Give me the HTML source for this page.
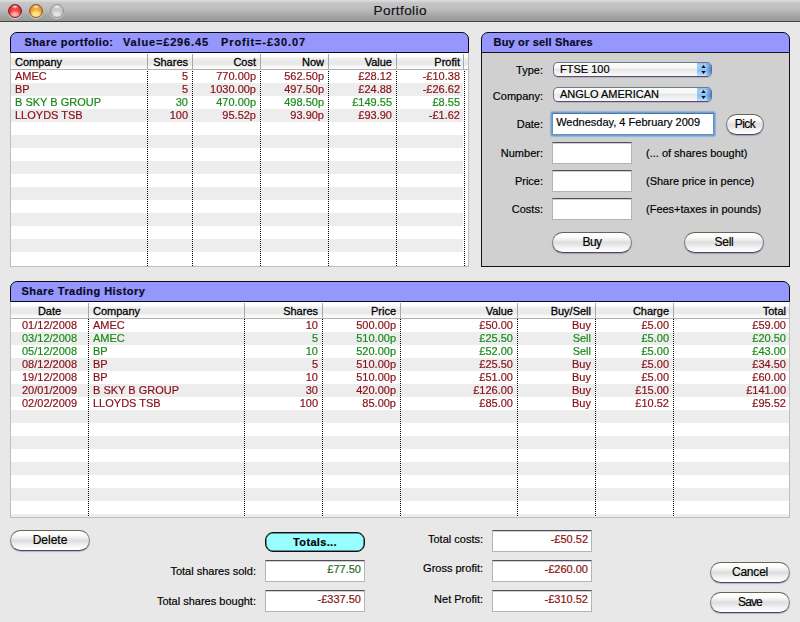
<!DOCTYPE html>
<html>
<head>
<meta charset="utf-8">
<title>Portfolio</title>
<style>
html,body{margin:0;padding:0;}
body{width:800px;height:622px;overflow:hidden;background:#e8e8e8;font-family:"Liberation Sans",sans-serif;font-size:11px;color:#000;position:relative;-webkit-text-stroke:0.18px;}
.abs{position:absolute;}
#titlebar{left:0;top:0;width:800px;height:21px;background:linear-gradient(#dcdedc 0px,#d4d4d4 1.5px,#c6c4c6 3px,#c1bfc1 8px,#b7b7b7 11px,#acacac 14px,#a1a3a1 17px,#979b97 21px);border-bottom:1px solid #3c4840;}
#title{left:0;top:3px;width:800px;text-align:center;font-size:13.5px;line-height:16px;color:#111;letter-spacing:0.42px;text-indent:0.4px;}
.light{width:14px;height:14px;border-radius:50%;top:4px;box-sizing:border-box;box-shadow:0 1px 0.5px rgba(255,255,255,0.55);}
.phead{background:#9696ff;border:1px solid #0a0a14;border-radius:7px 7px 0 0;box-sizing:border-box;height:21px;font-weight:bold;font-size:11px;line-height:19px;white-space:pre;color:#0a0a1e;}
.tbl{background:#fff;box-sizing:border-box;border:1px solid #bebebe;border-top:none;overflow:hidden;}
.thead{left:0;top:0;height:16px;background:linear-gradient(#ffffff 0%,#ffffff 22%,#f1f1f1 31%,#eaeaea 48%,#e8e8e8 70%,#f5f5f5 80%,#fdfdfd 100%);border-bottom:1px solid #b0b0b0;}
.th{top:0;height:16px;line-height:19px;box-sizing:border-box;white-space:nowrap;-webkit-text-stroke:0.28px;}
.hdiv{top:1px;width:1px;height:15px;background:#a8a8a8;}
.vdot{width:1px;background:repeating-linear-gradient(#000 0,#000 1px,#fff 1px,#fff 2px);}
.row{left:0;height:13px;}
.row.g{background:#ededed;}
.c{top:-1px;height:13px;line-height:14px;box-sizing:border-box;white-space:nowrap;}
.r{color:#880e16;will-change:transform;}
.gn{color:#168a16;will-change:transform;}
.fg{color:#236b23;}
.fr{color:#8c1010;}
.lbl{text-align:right;white-space:nowrap;line-height:14px;}
.hint{white-space:nowrap;line-height:14px;}
.tf{background:#fff;box-sizing:border-box;border:1px solid #b4b4b4;border-top:1px solid #4e4e5e;box-shadow:inset 0 1px 0 #cfcfcf;}
.tfv{text-align:right;line-height:14px;white-space:nowrap;}
.btn{box-sizing:border-box;border-radius:10.5px;border:1px solid #7c7c92;border-top-color:#66664e;border-bottom-color:#4c446c;background:linear-gradient(#ffffff 0%,#fbfbfb 22%,#ececec 38%,#dedede 50%,#e6e6e6 62%,#f6f6f6 80%,#ffffff 100%);box-shadow:0 1px 1px rgba(0,0,0,0.22);text-align:center;font-size:12px;line-height:18px;color:#000;}
.dd{box-sizing:border-box;border-radius:5px;border:1px solid #6c6c88;border-top-color:#6c7c86;border-bottom-color:#584a7a;background:linear-gradient(#fcfcfc 0%,#f6f6f6 40%,#e4e4e4 52%,#ececec 60%,#fafafa 100%);box-shadow:0 1px 0.5px rgba(0,0,0,0.12);line-height:13px;white-space:nowrap;overflow:hidden;}
.ddcap{right:0;top:0;width:14px;height:100%;background:linear-gradient(to right,rgba(60,120,210,0) 0%,rgba(60,120,210,0) 62%,rgba(50,110,205,0.75) 100%),linear-gradient(#8cb8ec 0%,#a4cef6 18%,#9ac8f4 45%,#84bcf0 55%,#a6d2f8 80%,#bfe0fb 100%);}
</style>
</head>
<body>
<div id="titlebar" class="abs"></div>
<div id="title" class="abs">Portfolio</div>
<div class="abs light" style="left:8px;background:radial-gradient(ellipse 3.5px 2px at 50% 14%,rgba(255,255,255,0.9) 0%,rgba(255,255,255,0) 100%),radial-gradient(ellipse 6px 4px at 50% 80%,#ffc4c4 0%,rgba(255,165,165,0.85) 50%,rgba(255,120,120,0) 100%),radial-gradient(circle at 50% 52%,#f85050 0%,#f04040 48%,#c02020 76%,#801616 100%);border:1px solid #7a2828;"></div>
<div class="abs light" style="left:29px;background:radial-gradient(ellipse 3.5px 2px at 50% 14%,rgba(255,255,255,0.9) 0%,rgba(255,255,255,0) 100%),radial-gradient(ellipse 6.5px 4.5px at 50% 78%,#fff0a0 0%,rgba(255,228,120,0.9) 50%,rgba(255,210,100,0) 100%),radial-gradient(circle at 50% 52%,#fab448 0%,#f4a438 48%,#cc7a1c 76%,#8c4e12 100%);border:1px solid #8a5c2a;"></div>
<div class="abs light" style="left:50px;background:radial-gradient(ellipse 3.5px 2px at 50% 14%,rgba(255,255,255,0.85) 0%,rgba(255,255,255,0) 100%),radial-gradient(ellipse 6px 4px at 50% 80%,#eaeaea 0%,rgba(228,228,228,0.8) 50%,rgba(220,220,220,0) 100%),radial-gradient(circle at 50% 52%,#cecece 0%,#c8c8c8 50%,#b8b8ba 80%,#9a9aa2 100%);border:1px solid #9494a0;"></div>
<div class="abs phead" style="left:10px;top:32px;width:459px;"><span class="abs" style="left:13.4px;letter-spacing:0.45px;">Share portfolio:</span><span class="abs" style="left:112px;letter-spacing:0.84px;">Value=£296.45</span><span class="abs" style="left:210px;letter-spacing:0.89px;">Profit=-£30.07</span></div>
<div class="abs tbl" id="t1" style="left:10px;top:53px;width:459px;height:214px;">
<div class="abs thead" style="width:457px;"></div>
<div class="abs row" style="top:17px;width:452px;"><div class="abs c r" style="left:0px;width:136px;text-align:left;padding-left:4px;">AMEC</div><div class="abs c r" style="left:137px;width:44px;text-align:right;padding-right:4px;">5</div><div class="abs c r" style="left:182px;width:67px;text-align:right;padding-right:4px;">770.00p</div><div class="abs c r" style="left:250px;width:67px;text-align:right;padding-right:4px;">562.50p</div><div class="abs c r" style="left:318px;width:67px;text-align:right;padding-right:4px;">£28.12</div><div class="abs c r" style="left:386px;width:66px;text-align:right;padding-right:3px;">-£10.38</div></div>
<div class="abs row g" style="top:30px;width:452px;"><div class="abs c r" style="left:0px;width:136px;text-align:left;padding-left:4px;">BP</div><div class="abs c r" style="left:137px;width:44px;text-align:right;padding-right:4px;">5</div><div class="abs c r" style="left:182px;width:67px;text-align:right;padding-right:4px;">1030.00p</div><div class="abs c r" style="left:250px;width:67px;text-align:right;padding-right:4px;">497.50p</div><div class="abs c r" style="left:318px;width:67px;text-align:right;padding-right:4px;">£24.88</div><div class="abs c r" style="left:386px;width:66px;text-align:right;padding-right:3px;">-£26.62</div></div>
<div class="abs row" style="top:43px;width:452px;"><div class="abs c gn" style="left:0px;width:136px;text-align:left;padding-left:4px;">B SKY B GROUP</div><div class="abs c gn" style="left:137px;width:44px;text-align:right;padding-right:4px;">30</div><div class="abs c gn" style="left:182px;width:67px;text-align:right;padding-right:4px;">470.00p</div><div class="abs c gn" style="left:250px;width:67px;text-align:right;padding-right:4px;">498.50p</div><div class="abs c gn" style="left:318px;width:67px;text-align:right;padding-right:4px;">£149.55</div><div class="abs c gn" style="left:386px;width:66px;text-align:right;padding-right:3px;">£8.55</div></div>
<div class="abs row g" style="top:56px;width:452px;"><div class="abs c r" style="left:0px;width:136px;text-align:left;padding-left:4px;">LLOYDS TSB</div><div class="abs c r" style="left:137px;width:44px;text-align:right;padding-right:4px;">100</div><div class="abs c r" style="left:182px;width:67px;text-align:right;padding-right:4px;">95.52p</div><div class="abs c r" style="left:250px;width:67px;text-align:right;padding-right:4px;">93.90p</div><div class="abs c r" style="left:318px;width:67px;text-align:right;padding-right:4px;">£93.90</div><div class="abs c r" style="left:386px;width:66px;text-align:right;padding-right:3px;">-£1.62</div></div>
<div class="abs row" style="top:69px;width:452px;"></div>
<div class="abs row g" style="top:82px;width:452px;"></div>
<div class="abs row" style="top:95px;width:452px;"></div>
<div class="abs row g" style="top:108px;width:452px;"></div>
<div class="abs row" style="top:121px;width:452px;"></div>
<div class="abs row g" style="top:134px;width:452px;"></div>
<div class="abs row" style="top:147px;width:452px;"></div>
<div class="abs row g" style="top:160px;width:452px;"></div>
<div class="abs row" style="top:173px;width:452px;"></div>
<div class="abs row g" style="top:186px;width:452px;"></div>
<div class="abs row" style="top:199px;width:452px;"></div>
<div class="abs th" style="left:0px;width:136px;text-align:left;padding-left:4px;">Company</div><div class="abs th" style="left:137px;width:44px;text-align:right;padding-right:4px;">Shares</div><div class="abs th" style="left:182px;width:67px;text-align:right;padding-right:4px;">Cost</div><div class="abs th" style="left:250px;width:67px;text-align:right;padding-right:4px;">Now</div><div class="abs th" style="left:318px;width:67px;text-align:right;padding-right:4px;">Value</div><div class="abs th" style="left:386px;width:66px;text-align:right;padding-right:3px;">Profit</div>
<div class="abs hdiv" style="left:136px;"></div><div class="abs vdot" style="left:136px;top:18px;height:195px;"></div><div class="abs hdiv" style="left:181px;"></div><div class="abs vdot" style="left:181px;top:18px;height:195px;"></div><div class="abs hdiv" style="left:249px;"></div><div class="abs vdot" style="left:249px;top:18px;height:195px;"></div><div class="abs hdiv" style="left:317px;"></div><div class="abs vdot" style="left:317px;top:18px;height:195px;"></div><div class="abs hdiv" style="left:385px;"></div><div class="abs vdot" style="left:385px;top:18px;height:195px;"></div><div class="abs hdiv" style="left:452px;"></div><div class="abs vdot" style="left:453px;top:18px;height:195px;"></div>
</div>
<div class="abs phead" style="left:481px;top:32px;width:309px;"><span class="abs" style="left:11.5px;letter-spacing:0.19px;">Buy or sell Shares</span></div>
<div class="abs" style="left:481px;top:52px;width:309px;height:215px;box-sizing:border-box;border:1px solid #141414;background:#d0d0d0;"></div>
<div class="abs lbl" style="left:483px;width:60px;top:63px;">Type:</div>
<div class="abs lbl" style="left:483px;width:60px;top:89px;">Company:</div>
<div class="abs lbl" style="left:483px;width:60px;top:117px;">Date:</div>
<div class="abs lbl" style="left:483px;width:60px;top:146px;">Number:</div>
<div class="abs lbl" style="left:483px;width:60px;top:174px;">Price:</div>
<div class="abs lbl" style="left:483px;width:60px;top:202px;">Costs:</div>
<div class="abs dd" style="left:553px;top:62px;width:159px;height:15px;padding-left:6px;">FTSE 100<div class="abs ddcap"></div><svg class="abs" style="right:5px;top:2px;" width="5" height="10" viewBox="0 0 5 10"><path d="M2.5 0 L4.7 3.1 L0.3 3.1 Z M2.5 9.1 L4.7 6.1 L0.3 6.1 Z" fill="#0a0a14"/></svg></div>
<div class="abs dd" style="left:553px;top:87px;width:159px;height:15px;padding-left:6px;">ANGLO AMERICAN<div class="abs ddcap"></div><svg class="abs" style="right:5px;top:2px;" width="5" height="10" viewBox="0 0 5 10"><path d="M2.5 0 L4.7 3.1 L0.3 3.1 Z M2.5 9.1 L4.7 6.1 L0.3 6.1 Z" fill="#0a0a14"/></svg></div>
<div class="abs" style="left:552px;top:113px;width:162px;height:22px;border-radius:1px;box-shadow:0 0 0 1px #6f9fd4,0 0 1px 2px rgba(120,165,215,0.7);"></div>
<div class="abs tf" style="left:552px;top:113px;width:162px;height:22px;border-color:#6690c4;border-top-color:#4f74a6;box-shadow:none;"></div>
<div class="abs" style="left:556.2px;top:115px;line-height:14px;white-space:nowrap;">Wednesday, 4 February 2009</div>
<div class="abs btn" style="left:726px;top:114px;width:38px;height:21px;letter-spacing:-0.6px;">Pick</div>
<div class="abs tf" style="left:552px;top:142px;width:80px;height:22px;"></div>
<div class="abs tf" style="left:552px;top:170px;width:80px;height:22px;"></div>
<div class="abs tf" style="left:552px;top:198px;width:80px;height:22px;"></div>
<div class="abs hint" style="left:646px;top:146px;">(... of shares bought)</div>
<div class="abs hint" style="left:646px;top:174px;">(Share price in pence)</div>
<div class="abs hint" style="left:646px;top:202px;">(Fees+taxes in pounds)</div>
<div class="abs btn" style="left:552px;top:232px;width:80px;height:21px;letter-spacing:-0.6px;">Buy</div>
<div class="abs btn" style="left:684px;top:232px;width:80px;height:21px;letter-spacing:-0.3px;">Sell</div>
<div class="abs phead" style="left:10px;top:281px;width:780px;"><span class="abs" style="left:10.5px;letter-spacing:0.45px;">Share Trading History</span></div>
<div class="abs tbl" id="t3" style="left:10px;top:302px;width:780px;height:216px;">
<div class="abs thead" style="width:778px;"></div>
<div class="abs row" style="top:17px;width:778px;"><div class="abs c r" style="left:0px;width:77px;text-align:center;">01/12/2008</div><div class="abs c r" style="left:78px;width:155px;text-align:left;padding-left:4px;">AMEC</div><div class="abs c r" style="left:234px;width:77px;text-align:right;padding-right:4px;">10</div><div class="abs c r" style="left:312px;width:77px;text-align:right;padding-right:4px;">500.00p</div><div class="abs c r" style="left:390px;width:116px;text-align:right;padding-right:4px;">£50.00</div><div class="abs c r" style="left:507px;width:77px;text-align:right;padding-right:4px;">Buy</div><div class="abs c r" style="left:585px;width:77px;text-align:right;padding-right:4px;">£5.00</div><div class="abs c r" style="left:663px;width:115px;text-align:right;padding-right:3px;">£59.00</div></div>
<div class="abs row g" style="top:30px;width:778px;"><div class="abs c gn" style="left:0px;width:77px;text-align:center;">03/12/2008</div><div class="abs c gn" style="left:78px;width:155px;text-align:left;padding-left:4px;">AMEC</div><div class="abs c gn" style="left:234px;width:77px;text-align:right;padding-right:4px;">5</div><div class="abs c gn" style="left:312px;width:77px;text-align:right;padding-right:4px;">510.00p</div><div class="abs c gn" style="left:390px;width:116px;text-align:right;padding-right:4px;">£25.50</div><div class="abs c gn" style="left:507px;width:77px;text-align:right;padding-right:4px;">Sell</div><div class="abs c gn" style="left:585px;width:77px;text-align:right;padding-right:4px;">£5.00</div><div class="abs c gn" style="left:663px;width:115px;text-align:right;padding-right:3px;">£20.50</div></div>
<div class="abs row" style="top:43px;width:778px;"><div class="abs c gn" style="left:0px;width:77px;text-align:center;">05/12/2008</div><div class="abs c gn" style="left:78px;width:155px;text-align:left;padding-left:4px;">BP</div><div class="abs c gn" style="left:234px;width:77px;text-align:right;padding-right:4px;">10</div><div class="abs c gn" style="left:312px;width:77px;text-align:right;padding-right:4px;">520.00p</div><div class="abs c gn" style="left:390px;width:116px;text-align:right;padding-right:4px;">£52.00</div><div class="abs c gn" style="left:507px;width:77px;text-align:right;padding-right:4px;">Sell</div><div class="abs c gn" style="left:585px;width:77px;text-align:right;padding-right:4px;">£5.00</div><div class="abs c gn" style="left:663px;width:115px;text-align:right;padding-right:3px;">£43.00</div></div>
<div class="abs row g" style="top:56px;width:778px;"><div class="abs c r" style="left:0px;width:77px;text-align:center;">08/12/2008</div><div class="abs c r" style="left:78px;width:155px;text-align:left;padding-left:4px;">BP</div><div class="abs c r" style="left:234px;width:77px;text-align:right;padding-right:4px;">5</div><div class="abs c r" style="left:312px;width:77px;text-align:right;padding-right:4px;">510.00p</div><div class="abs c r" style="left:390px;width:116px;text-align:right;padding-right:4px;">£25.50</div><div class="abs c r" style="left:507px;width:77px;text-align:right;padding-right:4px;">Buy</div><div class="abs c r" style="left:585px;width:77px;text-align:right;padding-right:4px;">£5.00</div><div class="abs c r" style="left:663px;width:115px;text-align:right;padding-right:3px;">£34.50</div></div>
<div class="abs row" style="top:69px;width:778px;"><div class="abs c r" style="left:0px;width:77px;text-align:center;">19/12/2008</div><div class="abs c r" style="left:78px;width:155px;text-align:left;padding-left:4px;">BP</div><div class="abs c r" style="left:234px;width:77px;text-align:right;padding-right:4px;">10</div><div class="abs c r" style="left:312px;width:77px;text-align:right;padding-right:4px;">510.00p</div><div class="abs c r" style="left:390px;width:116px;text-align:right;padding-right:4px;">£51.00</div><div class="abs c r" style="left:507px;width:77px;text-align:right;padding-right:4px;">Buy</div><div class="abs c r" style="left:585px;width:77px;text-align:right;padding-right:4px;">£5.00</div><div class="abs c r" style="left:663px;width:115px;text-align:right;padding-right:3px;">£60.00</div></div>
<div class="abs row g" style="top:82px;width:778px;"><div class="abs c r" style="left:0px;width:77px;text-align:center;">20/01/2009</div><div class="abs c r" style="left:78px;width:155px;text-align:left;padding-left:4px;">B SKY B GROUP</div><div class="abs c r" style="left:234px;width:77px;text-align:right;padding-right:4px;">30</div><div class="abs c r" style="left:312px;width:77px;text-align:right;padding-right:4px;">420.00p</div><div class="abs c r" style="left:390px;width:116px;text-align:right;padding-right:4px;">£126.00</div><div class="abs c r" style="left:507px;width:77px;text-align:right;padding-right:4px;">Buy</div><div class="abs c r" style="left:585px;width:77px;text-align:right;padding-right:4px;">£15.00</div><div class="abs c r" style="left:663px;width:115px;text-align:right;padding-right:3px;">£141.00</div></div>
<div class="abs row" style="top:95px;width:778px;"><div class="abs c r" style="left:0px;width:77px;text-align:center;">02/02/2009</div><div class="abs c r" style="left:78px;width:155px;text-align:left;padding-left:4px;">LLOYDS TSB</div><div class="abs c r" style="left:234px;width:77px;text-align:right;padding-right:4px;">100</div><div class="abs c r" style="left:312px;width:77px;text-align:right;padding-right:4px;">85.00p</div><div class="abs c r" style="left:390px;width:116px;text-align:right;padding-right:4px;">£85.00</div><div class="abs c r" style="left:507px;width:77px;text-align:right;padding-right:4px;">Buy</div><div class="abs c r" style="left:585px;width:77px;text-align:right;padding-right:4px;">£10.52</div><div class="abs c r" style="left:663px;width:115px;text-align:right;padding-right:3px;">£95.52</div></div>
<div class="abs row g" style="top:108px;width:778px;"></div>
<div class="abs row" style="top:121px;width:778px;"></div>
<div class="abs row g" style="top:134px;width:778px;"></div>
<div class="abs row" style="top:147px;width:778px;"></div>
<div class="abs row g" style="top:160px;width:778px;"></div>
<div class="abs row" style="top:173px;width:778px;"></div>
<div class="abs row g" style="top:186px;width:778px;"></div>
<div class="abs row" style="top:199px;width:778px;"></div>
<div class="abs row g" style="top:212px;width:778px;"></div>
<div class="abs th" style="left:0px;width:77px;text-align:center;">Date</div><div class="abs th" style="left:78px;width:155px;text-align:left;padding-left:4px;">Company</div><div class="abs th" style="left:234px;width:77px;text-align:right;padding-right:4px;">Shares</div><div class="abs th" style="left:312px;width:77px;text-align:right;padding-right:4px;">Price</div><div class="abs th" style="left:390px;width:116px;text-align:right;padding-right:4px;">Value</div><div class="abs th" style="left:507px;width:77px;text-align:right;padding-right:4px;">Buy/Sell</div><div class="abs th" style="left:585px;width:77px;text-align:right;padding-right:4px;">Charge</div><div class="abs th" style="left:663px;width:115px;text-align:right;padding-right:3px;">Total</div>
<div class="abs hdiv" style="left:77px;"></div><div class="abs vdot" style="left:77px;top:17px;height:198px;"></div><div class="abs hdiv" style="left:233px;"></div><div class="abs vdot" style="left:233px;top:17px;height:198px;"></div><div class="abs hdiv" style="left:311px;"></div><div class="abs vdot" style="left:311px;top:17px;height:198px;"></div><div class="abs hdiv" style="left:389px;"></div><div class="abs vdot" style="left:389px;top:17px;height:198px;"></div><div class="abs hdiv" style="left:506px;"></div><div class="abs vdot" style="left:506px;top:17px;height:198px;"></div><div class="abs hdiv" style="left:584px;"></div><div class="abs vdot" style="left:584px;top:17px;height:198px;"></div><div class="abs hdiv" style="left:662px;"></div><div class="abs vdot" style="left:662px;top:17px;height:198px;"></div>
</div>
<div class="abs btn" style="left:10px;top:530px;width:80px;height:21px;letter-spacing:0px;">Delete</div>
<div class="abs" style="left:265px;top:532px;width:100px;height:20px;box-sizing:border-box;border:1px solid #101010;border-radius:8px;background:#98feff;box-shadow:inset 0 0 0 0.5px #202020;text-align:center;font-weight:bold;font-size:11px;line-height:18px;letter-spacing:0.34px;">Totals...</div>
<div class="abs lbl" style="left:139px;width:117px;top:564px;">Total shares sold:</div>
<div class="abs lbl" style="left:139px;width:117px;top:594px;">Total shares bought:</div>
<div class="abs lbl" style="left:380px;width:103px;top:532px;">Total costs:</div>
<div class="abs lbl" style="left:380px;width:103px;top:561px;">Gross profit:</div>
<div class="abs lbl" style="left:380px;width:103px;top:592px;">Net Profit:</div>
<div class="abs tf" style="left:265px;top:560px;width:100px;height:22px;"></div>
<div class="abs tfv fg" style="left:265px;width:96px;top:562px;">£77.50</div>
<div class="abs tf" style="left:265px;top:590px;width:100px;height:22px;"></div>
<div class="abs tfv fr" style="left:265px;width:96px;top:592px;">-£337.50</div>
<div class="abs tf" style="left:492px;top:530px;width:100px;height:22px;"></div>
<div class="abs tfv fr" style="left:492px;width:96px;top:532px;">-£50.52</div>
<div class="abs tf" style="left:492px;top:560px;width:100px;height:22px;"></div>
<div class="abs tfv fr" style="left:492px;width:96px;top:562px;">-£260.00</div>
<div class="abs tf" style="left:492px;top:590px;width:100px;height:22px;"></div>
<div class="abs tfv fr" style="left:492px;width:96px;top:592px;">-£310.52</div>
<div class="abs btn" style="left:710px;top:562px;width:80px;height:21px;letter-spacing:-0.2px;">Cancel</div>
<div class="abs btn" style="left:710px;top:592px;width:80px;height:21px;letter-spacing:-0.9px;">Save</div>
</body>
</html>
